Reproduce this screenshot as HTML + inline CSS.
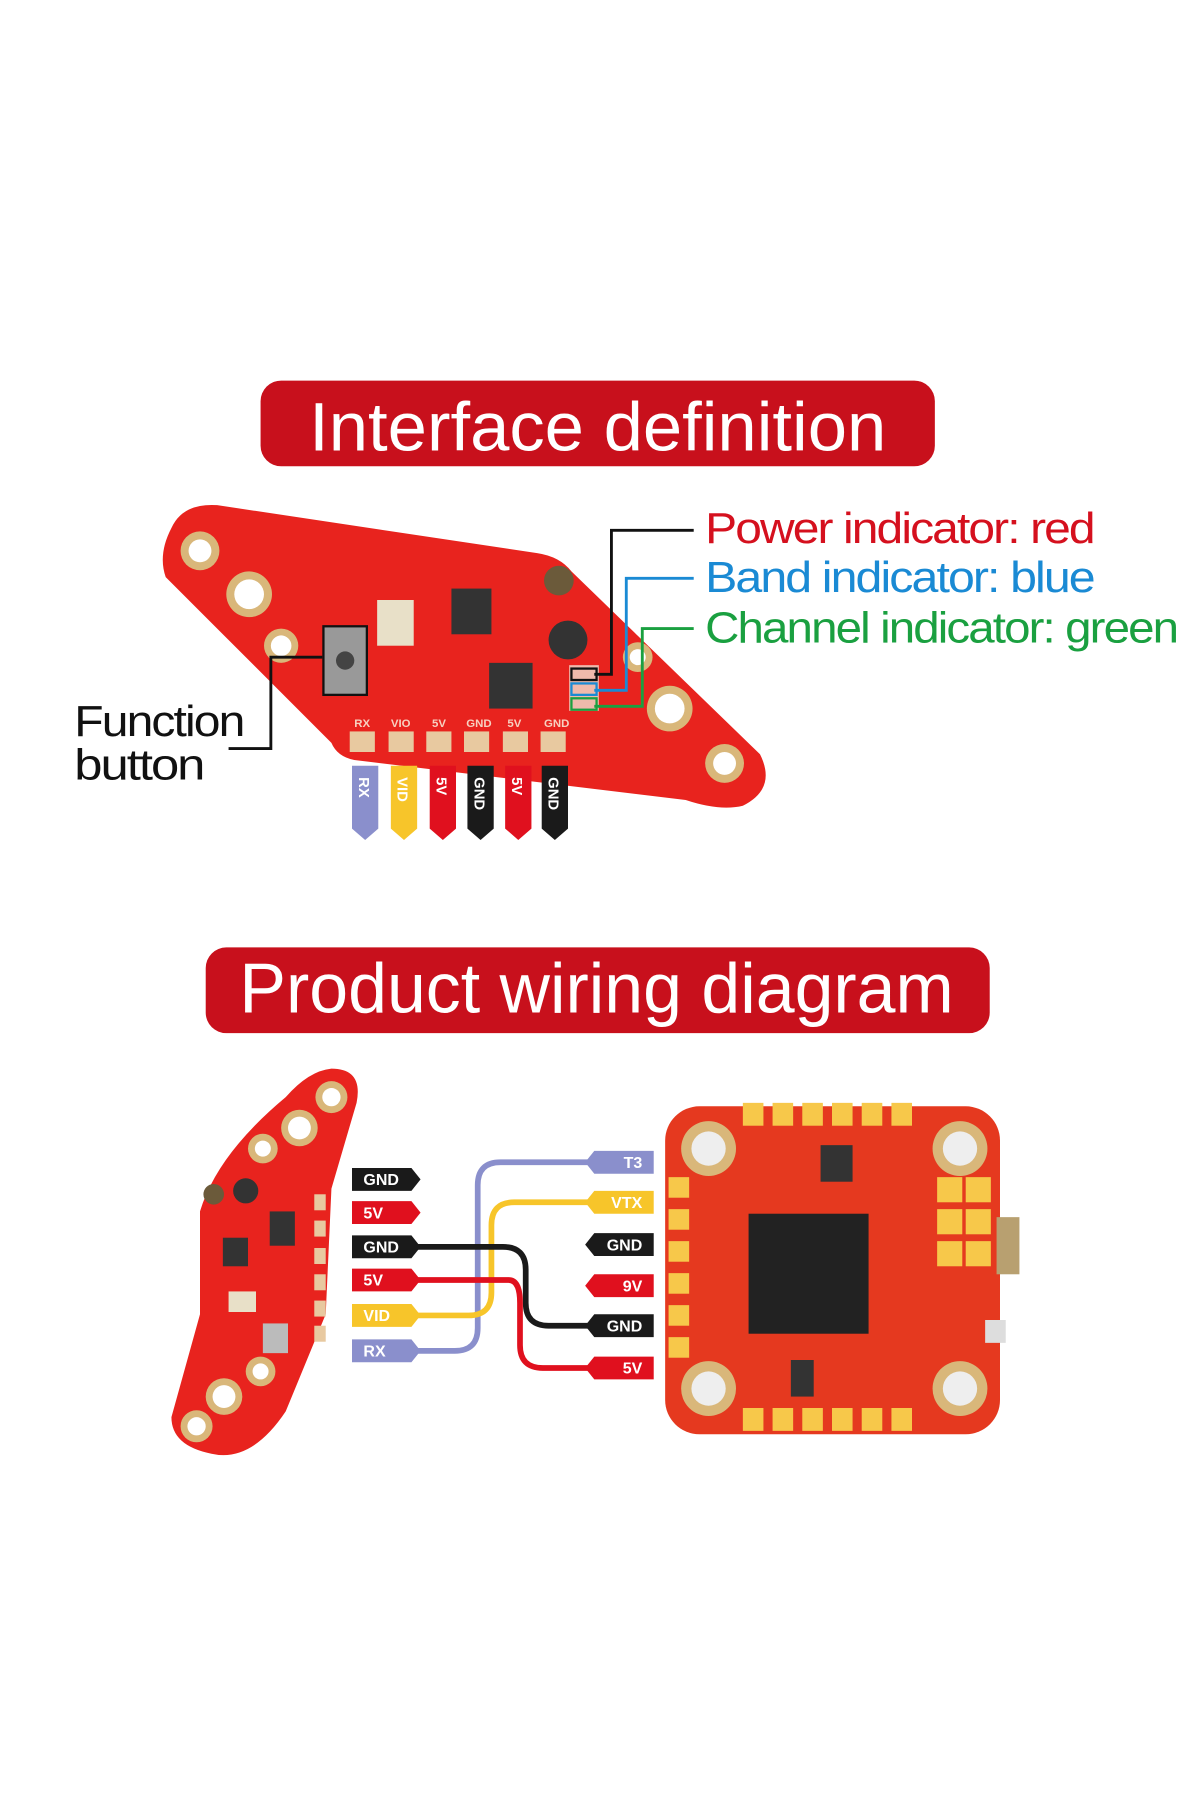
<!DOCTYPE html>
<html><head><meta charset="utf-8"><style>html,body{margin:0;padding:0;background:#fff}svg{display:block}</style></head>
<body>
<svg width="1200" height="1800" viewBox="0 0 1050 1575" xmlns="http://www.w3.org/2000/svg" font-family="Liberation Sans, sans-serif">
<rect width="1050" height="1575" fill="#fff"/>
<!-- Title 1 -->
<rect x="228" y="333" width="590" height="75" rx="18" fill="#c8101c"/>
<text x="523" y="394" text-anchor="middle" font-size="60" fill="#fff" textLength="505" lengthAdjust="spacingAndGlyphs">Interface definition</text>

<!-- Board 1 -->
<path d="M150,462 Q160,440 190,442 L470,484 Q490,487 500,500 L665,660 Q680,690 650,705 Q630,710 600,700 L310,665 Q295,662 290,650 L145,505 Q138,485 150,462 Z" fill="#e8231e"/>
<g fill="#d9b77a"><circle cx="175" cy="482" r="17"/><circle cx="218" cy="520" r="20"/><circle cx="246" cy="565" r="15"/><circle cx="586" cy="620" r="20"/><circle cx="634" cy="668" r="17"/><circle cx="558" cy="575" r="13"/></g>
<g fill="#fff"><circle cx="175" cy="482" r="10"/><circle cx="218" cy="520" r="13"/><circle cx="246" cy="565" r="9"/><circle cx="586" cy="620" r="13"/><circle cx="634" cy="668" r="10"/><circle cx="558" cy="575" r="7"/></g>
<rect x="395" y="515" width="35" height="40" fill="#333"/>
<rect x="428" y="580" width="38" height="40" fill="#333"/>
<rect x="330" y="525" width="32" height="40" fill="#e8e0c8"/>
<circle cx="497" cy="560" r="17" fill="#333"/>
<circle cx="489" cy="508" r="13" fill="#6b5a3a"/>
<rect x="283" y="548" width="38" height="60" fill="#999" stroke="#111" stroke-width="2"/>
<circle cx="302" cy="578" r="8" fill="#444"/>
<rect x="498" y="582" width="26" height="40" fill="#f0e0d0" opacity="0.8"/>
<g font-size="10" fill="#f7d0c0" font-weight="bold"><text x="310" y="636">RX</text><text x="342" y="636">VIO</text><text x="378" y="636">5V</text><text x="408" y="636">GND</text><text x="444" y="636">5V</text><text x="476" y="636">GND</text></g>
<g fill="#e8c9a0"><rect x="306" y="640" width="22" height="18"/><rect x="340" y="640" width="22" height="18"/><rect x="373" y="640" width="22" height="18"/><rect x="406" y="640" width="22" height="18"/><rect x="440" y="640" width="22" height="18"/><rect x="473" y="640" width="22" height="18"/></g>

<!-- indicator lines -->
<g fill="none" stroke-width="2.5">
<path d="M607,464 H535 V590 H520" stroke="#111"/>
<path d="M607,506 H548 V604 H520" stroke="#1a8ad4"/>
<path d="M607,550 H562 V618 H520" stroke="#1aa040"/>
<path d="M282,575 H237 V655 H200" stroke="#111"/>
</g>
<rect x="500" y="585" width="22" height="10" fill="none" stroke="#111" stroke-width="2"/>
<rect x="500" y="598" width="22" height="10" fill="none" stroke="#1a8ad4" stroke-width="2"/>
<rect x="500" y="611" width="22" height="10" fill="none" stroke="#1aa040" stroke-width="2"/>
<g font-size="38" letter-spacing="-1.5">
<text x="617" y="475" fill="#d5101e" textLength="340" lengthAdjust="spacingAndGlyphs">Power indicator: red</text>
<text x="617" y="518" fill="#1a8ad4" textLength="340" lengthAdjust="spacingAndGlyphs">Band indicator: blue</text>
<text x="617" y="562" fill="#1aa040" textLength="413" lengthAdjust="spacingAndGlyphs">Channel indicator: green</text>
<text x="65" y="644" fill="#111" textLength="148" lengthAdjust="spacingAndGlyphs">Function</text>
<text x="65" y="682" fill="#111" textLength="113" lengthAdjust="spacingAndGlyphs">button</text>
</g>
<!-- pin tags -->
<g>
<path d="M308,670 h23 v55 l-11.5,10 l-11.5,-10 z" fill="#8a8fcc"/>
<path d="M342,670 h23 v55 l-11.5,10 l-11.5,-10 z" fill="#f7c52a"/>
<path d="M376,670 h23 v55 l-11.5,10 l-11.5,-10 z" fill="#e0101e"/>
<path d="M409,670 h23 v55 l-11.5,10 l-11.5,-10 z" fill="#1a1a1a"/>
<path d="M442,670 h23 v55 l-11.5,10 l-11.5,-10 z" fill="#e0101e"/>
<path d="M474,670 h23 v55 l-11.5,10 l-11.5,-10 z" fill="#1a1a1a"/>
</g>
<g font-size="13" font-weight="bold" fill="#fff">
<text transform="translate(314,680) rotate(90)">RX</text>
<text transform="translate(348,680) rotate(90)">VID</text>
<text transform="translate(382,680) rotate(90)">5V</text>
<text transform="translate(415,680) rotate(90)">GND</text>
<text transform="translate(448,680) rotate(90)">5V</text>
<text transform="translate(480,680) rotate(90)">GND</text>
</g>

<!-- Title 2 -->
<rect x="180" y="829" width="686" height="75" rx="18" fill="#c8101c"/>
<text x="522" y="886" text-anchor="middle" font-size="62" fill="#fff" textLength="625" lengthAdjust="spacingAndGlyphs">Product wiring diagram</text>

<!-- Left board 2 -->
<path d="M290,935 Q318,935 312,965 L290,1040 L285,1150 L250,1235 Q220,1280 185,1272 Q150,1265 150,1240 L175,1150 L175,1060 Q190,1010 250,960 Q270,937 290,935 Z" fill="#e8231e"/>
<g fill="#d9b77a"><circle cx="290" cy="960" r="14"/><circle cx="262" cy="987" r="16"/><circle cx="230" cy="1005" r="13"/><circle cx="228" cy="1200" r="13"/><circle cx="196" cy="1222" r="16"/><circle cx="172" cy="1248" r="14"/></g>
<g fill="#fff"><circle cx="290" cy="960" r="8"/><circle cx="262" cy="987" r="10"/><circle cx="230" cy="1005" r="7"/><circle cx="228" cy="1200" r="7"/><circle cx="196" cy="1222" r="10"/><circle cx="172" cy="1248" r="8"/></g>
<rect x="195" y="1083" width="22" height="25" fill="#333"/><rect x="236" y="1060" width="22" height="30" fill="#333"/>
<circle cx="187" cy="1045" r="9" fill="#6b5a3a"/><circle cx="215" cy="1042" r="11" fill="#333"/>
<rect x="230" y="1158" width="22" height="26" fill="#bbb"/>
<rect x="200" y="1130" width="24" height="18" fill="#e8e0c8"/>
<g fill="#e8c9a0"><rect x="275" y="1045" width="10" height="14"/><rect x="275" y="1068" width="10" height="14"/><rect x="275" y="1092" width="10" height="14"/><rect x="275" y="1115" width="10" height="14"/><rect x="275" y="1138" width="10" height="14"/><rect x="275" y="1160" width="10" height="14"/></g>

<!-- wires -->
<g fill="none" stroke-width="5">
<path d="M365,1182 H398 Q418,1182 418,1162 V1037 Q418,1017 438,1017 H515" stroke="#8a8fcc"/>
<path d="M365,1151 H410 Q430,1151 430,1131 V1072 Q430,1052 450,1052 H515" stroke="#f7c52a"/>
<path d="M365,1091 H440 Q460,1091 460,1111 V1140 Q460,1160 480,1160 H515" stroke="#1a1a1a"/>
<path d="M365,1120 H445 Q455,1120 455,1140 V1177 Q455,1197 475,1197 H515" stroke="#e0101e"/>
</g>
<!-- left tags -->
<g>
<path d="M308,1022 h52 l8,10 l-8,10 h-52 z" fill="#1a1a1a"/>
<path d="M308,1051 h52 l8,10 l-8,10 h-52 z" fill="#e0101e"/>
<path d="M308,1081 h52 l8,10 l-8,10 h-52 z" fill="#1a1a1a"/>
<path d="M308,1110 h52 l8,10 l-8,10 h-52 z" fill="#e0101e"/>
<path d="M308,1141 h52 l8,10 l-8,10 h-52 z" fill="#f7c52a"/>
<path d="M308,1172 h52 l8,10 l-8,10 h-52 z" fill="#8a8fcc"/>
</g>
<g font-size="14" font-weight="bold" fill="#fff">
<text x="318" y="1037">GND</text><text x="318" y="1066">5V</text><text x="318" y="1096">GND</text><text x="318" y="1125">5V</text><text x="318" y="1156">VID</text><text x="318" y="1187">RX</text>
</g>
<!-- right tags -->
<g>
<path d="M572,1007 h-52 l-8,10 l8,10 h52 z" fill="#8a8fcc"/>
<path d="M572,1042 h-52 l-8,10 l8,10 h52 z" fill="#f7c52a"/>
<path d="M572,1079 h-52 l-8,10 l8,10 h52 z" fill="#1a1a1a"/>
<path d="M572,1115 h-52 l-8,10 l8,10 h52 z" fill="#e0101e"/>
<path d="M572,1150 h-52 l-8,10 l8,10 h52 z" fill="#1a1a1a"/>
<path d="M572,1187 h-52 l-8,10 l8,10 h52 z" fill="#e0101e"/>
</g>
<g font-size="14" font-weight="bold" fill="#fff" text-anchor="end">
<text x="562" y="1022">T3</text><text x="562" y="1057">VTX</text><text x="562" y="1094">GND</text><text x="562" y="1130">9V</text><text x="562" y="1165">GND</text><text x="562" y="1202">5V</text>
</g>

<!-- Right FC board -->
<rect x="582" y="968" width="293" height="287" rx="30" fill="#e5391f"/>
<g fill="#f7c84a">
<rect x="650" y="965" width="18" height="20"/><rect x="676" y="965" width="18" height="20"/><rect x="702" y="965" width="18" height="20"/><rect x="728" y="965" width="18" height="20"/><rect x="754" y="965" width="18" height="20"/><rect x="780" y="965" width="18" height="20"/>
<rect x="650" y="1232" width="18" height="20"/><rect x="676" y="1232" width="18" height="20"/><rect x="702" y="1232" width="18" height="20"/><rect x="728" y="1232" width="18" height="20"/><rect x="754" y="1232" width="18" height="20"/><rect x="780" y="1232" width="18" height="20"/>
<rect x="585" y="1030" width="18" height="18"/><rect x="585" y="1058" width="18" height="18"/><rect x="585" y="1086" width="18" height="18"/><rect x="585" y="1114" width="18" height="18"/><rect x="585" y="1142" width="18" height="18"/><rect x="585" y="1170" width="18" height="18"/>
<rect x="820" y="1030" width="22" height="22"/><rect x="845" y="1030" width="22" height="22"/><rect x="820" y="1058" width="22" height="22"/><rect x="845" y="1058" width="22" height="22"/><rect x="820" y="1086" width="22" height="22"/><rect x="845" y="1086" width="22" height="22"/>
</g>
<g fill="#d9b77a"><circle cx="620" cy="1005" r="24"/><circle cx="840" cy="1005" r="24"/><circle cx="620" cy="1215" r="24"/><circle cx="840" cy="1215" r="24"/></g>
<g fill="#eee"><circle cx="620" cy="1005" r="15"/><circle cx="840" cy="1005" r="15"/><circle cx="620" cy="1215" r="15"/><circle cx="840" cy="1215" r="15"/></g>
<rect x="655" y="1062" width="105" height="105" fill="#222"/>
<rect x="718" y="1002" width="28" height="32" fill="#333"/>
<rect x="692" y="1190" width="20" height="32" fill="#333"/>
<rect x="872" y="1065" width="20" height="50" fill="#b8a070"/>
<rect x="862" y="1155" width="18" height="20" fill="#ddd"/>
</svg>
</body></html>
